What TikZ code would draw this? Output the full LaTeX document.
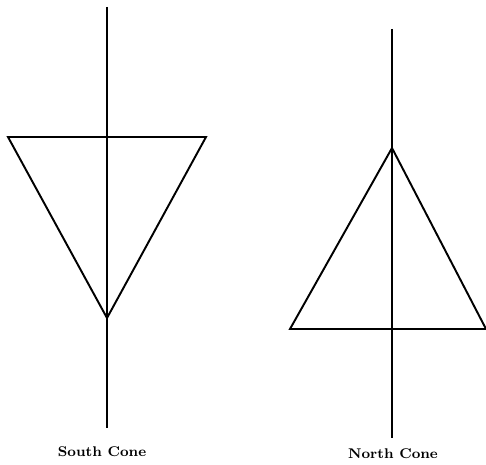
\documentclass[tikz,border=0pt]{standalone}
\usepackage{tikz}
\usetikzlibrary{positioning}
\tikzset{conelabel/.style = {font=\footnotesize\bfseries, inner sep = 0}}
\tikzset{every picture/.style={
    every path/.style={line width=1.1pt},
}}
\begin{document}
\begin{tikzpicture}[x=0.02cm, y=-0.02cm]
    \useasboundingbox (0,0) rectangle (486,465);
    % south cone
    \draw (107,7) -- (107,428);
    \draw (8,137) -- (206,137) -- (107,318) -- cycle;
    \node [conelabel] (south) at (102,452) {South Cone};
    % north cone
    \draw (392,29) -- (392,438);
    \draw (392,148) -- (486,329) -- (290,329) -- cycle;
    \node [conelabel] (north) at (393,454) {North Cone};
  \end{tikzpicture}
\end{document}
